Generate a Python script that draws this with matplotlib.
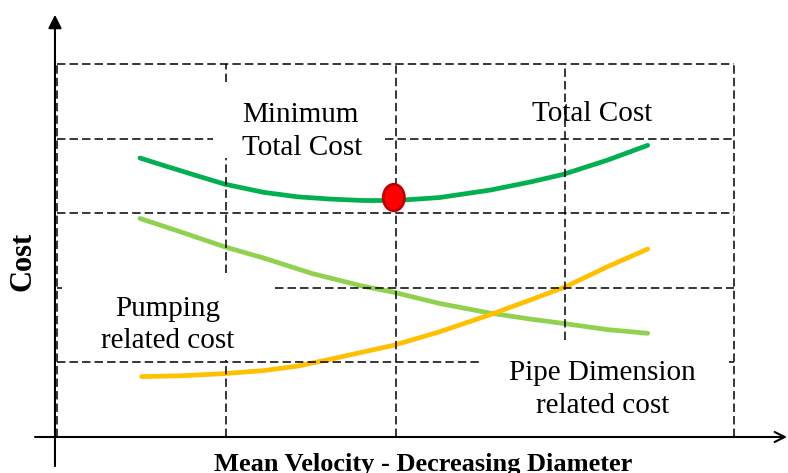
import matplotlib.pyplot as plt
from matplotlib.patches import Ellipse

# curve readings (x in grid cells along velocity, y in grid cells of cost)
total_x = [0.49, 0.63, 0.83, 0.99, 1.22, 1.42, 1.61, 1.81, 2.00, 2.26, 2.56, 2.80, 2.99, 3.25, 3.49]
total_y = [3.74, 3.64, 3.50, 3.39, 3.28, 3.22, 3.19, 3.17, 3.17, 3.21, 3.31, 3.42, 3.52, 3.71, 3.91]

pump_x = [0.49, 0.73, 0.99, 1.22, 1.51, 1.81, 1.99, 2.26, 2.56, 2.80, 3.00, 3.25, 3.49]
pump_y = [2.93, 2.75, 2.55, 2.40, 2.19, 2.02, 1.94, 1.79, 1.66, 1.58, 1.52, 1.44, 1.39]

pipe_x = [0.50, 0.73, 0.99, 1.22, 1.42, 1.61, 1.81, 1.99, 2.26, 2.56, 2.80, 3.00, 3.25, 3.49]
pipe_y = [0.81, 0.82, 0.85, 0.89, 0.95, 1.04, 1.14, 1.23, 1.41, 1.64, 1.84, 2.01, 2.28, 2.52]

min_x, min_y = 1.99, 3.21

# dashed grid pieces, broken where the labels sit
h_lines = [(5, 0, 4), (4, 0, 0.92), (4, 1.94, 4), (3, 0, 4), (2, 0, 0.03), (2, 1.29, 4),
           (1, 0, 2.5), (1, 3.97, 4), (0, 0, 4)]
v_lines = [(0, 0, 5), (1, 4.76, 5), (1, 2.20, 3.74), (1, 0, 1.03), (2, 0, 5), (3, 1.30, 5), (4, 0, 5)]

labels = [("Minimum", 1.436, 4.22), ("Total Cost", 1.447, 3.78), ("Total Cost", 3.161, 4.24),
          ("Pumping", 0.653, 1.62), ("related cost", 0.656, 1.19),
          ("Pipe Dimension", 3.224, 0.76), ("related cost", 3.226, 0.32)]

plt.rcParams['font.family'] = ['Liberation Serif', 'DejaVu Serif']

fig = plt.figure(figsize=(7.88, 4.73), dpi=100)
ax = fig.add_axes([0, 0, 1, 1])
ax.set_xlim(-0.3368, 4.319)
ax.set_ylim(-0.4826, 5.858)
ax.axis('off')

dash = (0, (5.5, 2.7))
for y, x0, x1 in h_lines:
    ax.plot([x0, x1], [y, y], color='black', lw=1.1, linestyle=dash, zorder=3)
for x, y0, y1 in v_lines:
    ax.plot([x, x], [y0, y1], color='black', lw=1.1, linestyle=dash, zorder=3)

ax.plot(total_x, total_y, color='#00B050', lw=3.4, solid_capstyle='round', solid_joinstyle='round', zorder=2)
ax.plot(pump_x, pump_y, color='#92D050', lw=3.4, solid_capstyle='round', solid_joinstyle='round', zorder=2)
ax.plot(pipe_x, pipe_y, color='#FFC000', lw=3.4, solid_capstyle='round', solid_joinstyle='round', zorder=2)

ax.add_patch(Ellipse((min_x, min_y), 0.125, 0.355, facecolor='#FF0000',
                     edgecolor='#C00000', lw=2.0, zorder=5))

# axes with arrows
ax.annotate('', xy=(-0.012, 5.66), xytext=(-0.012, -0.39),
            arrowprops=dict(arrowstyle='-|>', color='black', lw=1.5, mutation_scale=20,
                            shrinkA=0, shrinkB=0), zorder=4)
ax.annotate('', xy=(4.313, 0), xytext=(-0.13, 0),
            arrowprops=dict(arrowstyle='->', color='black', lw=1.5, mutation_scale=18,
                            shrinkA=0, shrinkB=0), zorder=4)

for txt, x, y in labels:
    ax.text(x, y, txt, ha='center', va='baseline', fontsize=21, zorder=6)

fig.text(23 / 788, 1 - 261 / 473, 'Cost', rotation=90, ha='center', va='center',
         fontsize=22, fontweight='bold')
fig.text(423.5 / 788, 1 - 471 / 473, 'Mean Velocity - Decreasing Diameter', ha='center',
         va='baseline', fontsize=19, fontweight='bold')

fig.savefig('out.png', dpi=100)
